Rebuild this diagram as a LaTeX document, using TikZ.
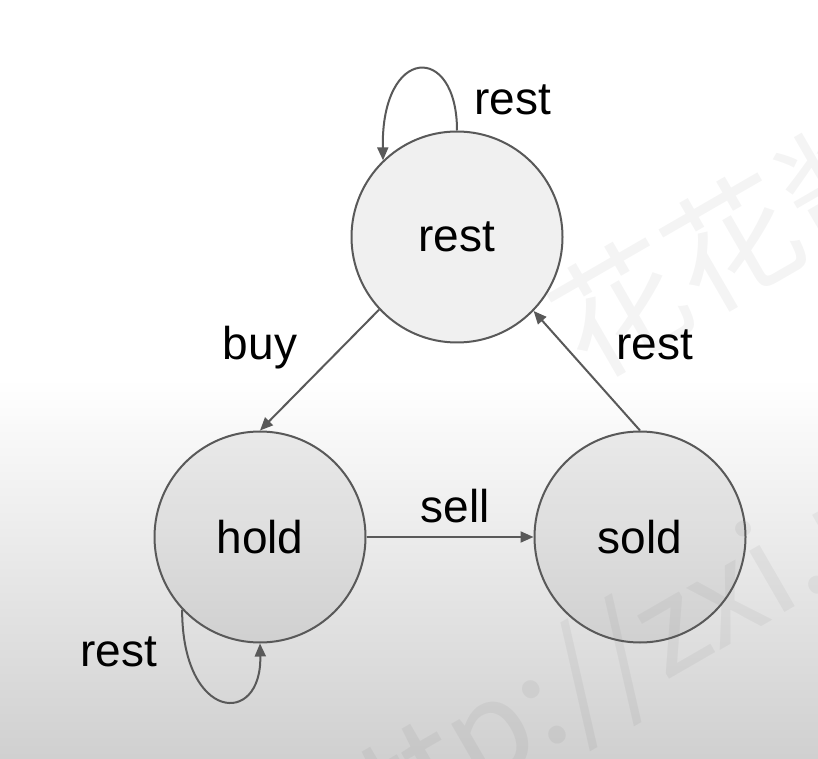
\documentclass[tikz,border=0pt]{standalone}
\usepackage{fontspec}
\setmainfont{Liberation Sans}
\newfontfamily\cjkfont{Noto Sans CJK SC}
\usetikzlibrary{arrows.meta}
\definecolor{edgegray}{HTML}{595959}
\definecolor{bgbottom}{HTML}{D0D0D0}
\newcommand\labelsize{\fontsize{46}{55}\selectfont}
\begin{document}
\begin{tikzpicture}[x=1pt,y=1pt,
  state/.style={circle, draw=edgegray, line width=2pt, fill=black, fill opacity=0.06,
    draw opacity=1, text opacity=1, minimum size=211pt, inner sep=0pt, font=\labelsize},
  lbl/.style={font=\labelsize, anchor=base, inner sep=0pt},
  edge/.style={draw=edgegray, line width=2pt, -{Triangle[length=13pt,width=11pt]}},
  wm/.style={font=\cjkfont\fontsize{130}{150}\selectfont, text=black, text opacity=0.045,
    anchor=base west, rotate=30, inner sep=0pt}]
\useasboundingbox (0,0) rectangle (818,758);
\begin{scope}
  \clip (0,0) rectangle (818,758);
  \fill[white] (0,378) rectangle (818,758);
  \shade[top color=white, bottom color=bgbottom] (0,0) rectangle (818,379);
  \node[wm] (wm1) at (588,375) {花花酱 http://zxi.mytechroad.com};
  \node[wm] (wm2) at (-38,-330) {花花酱 http://zxi.mytechroad.com};
\end{scope}
\node[state] (rest) at (457,521) {rest};
\node[state] (hold) at (260,221) {hold};
\node[state] (sold) at (640,221) {sold};
\draw[edge] (rest.223) -- (hold.90);
\draw[edge] (hold.east) -- (sold.west);
\draw[edge] (sold.90) -- (rest.316);
\draw[edge] (rest.90) .. controls +(0,88) and +(-2,115) .. (rest.134);
\draw[edge] (hold.223) .. controls +(0,-112) and +(2,-84) .. (hold.270);
\node[lbl] (lrtop) at (513,643) {rest};
\node[lbl] (lbuy) at (260,398) {buy};
\node[lbl] (lrright) at (655,398) {rest};
\node[lbl] (lsell) at (455,236) {sell};
\node[lbl] (lrbot) at (119,92) {rest};
\end{tikzpicture}
\end{document}
